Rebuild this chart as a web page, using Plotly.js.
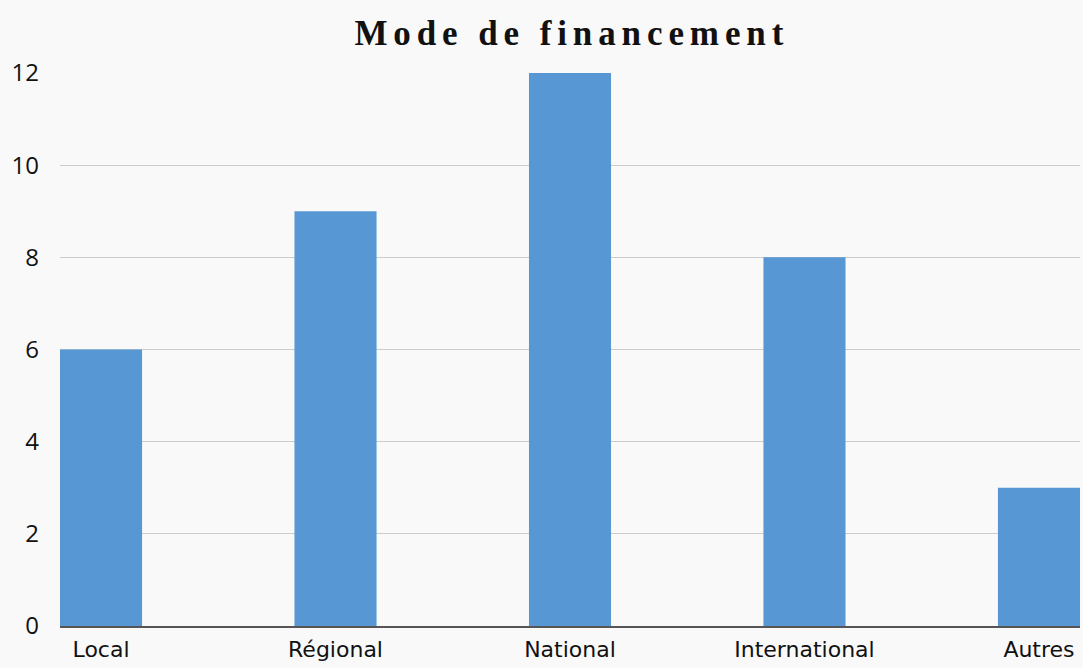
<!DOCTYPE html>
<html>
<head>
<meta charset="utf-8">
<script src="https://cdn.plot.ly/plotly-3.0.1.min.js"></script>
<style>
html,body{margin:0;padding:0;background:#f9f9f9;}
#chart{width:1083px;height:668px;}
.gtitle{letter-spacing:5.9px;}
</style>
</head>
<body>
<div id="chart"></div>
<script>
const categories = ["Local", "Régional", "National", "International", "Autres"];
const values = [6, 9, 12, 8, 3];
const yTicks = [0, 2, 4, 6, 8, 10, 12];

const trace = {
  type: "bar",
  x: categories,
  y: values,
  width: 0.35,
  marker: {color: "#5798d4"},
  hoverinfo: "x+y"
};

const layout = {
  width: 1083,
  height: 668,
  paper_bgcolor: "#f9f9f9",
  plot_bgcolor: "#f9f9f9",
  margin: {l: 60, r: 3, t: 73, b: 42, pad: 0},
  showlegend: false,
  title: {
    text: "<b>Mode de financement</b>",
    font: {family: "Liberation Serif, Times New Roman, serif", size: 35, color: "#111111"},
    x: 0.528, xanchor: "center",
    y: 0.951, yanchor: "middle"
  },
  xaxis: {
    type: "category",
    range: [-0.175, 4.175],
    showgrid: false,
    showline: true,
    linecolor: "#555555",
    linewidth: 1.5,
    ticks: "",
    tickfont: {family: "DejaVu Sans, Noto Sans, sans-serif", size: 22, color: "#111111"},
    ticklabelstandoff: 3,
    fixedrange: true
  },
  yaxis: {
    range: [0, 12],
    tickvals: yTicks,
    ticktext: yTicks.map(String),
    showgrid: true,
    gridcolor: "#cccccc",
    gridwidth: 1,
    zeroline: false,
    showline: false,
    ticks: "",
    tickfont: {family: "Open Sans, Noto Sans, sans-serif", size: 24, color: "#111111"},
    ticklabelstandoff: 20,
    fixedrange: true
  }
};

Plotly.newPlot("chart", [trace], layout, {displayModeBar: false, staticPlot: true});
</script>
</body>
</html>
